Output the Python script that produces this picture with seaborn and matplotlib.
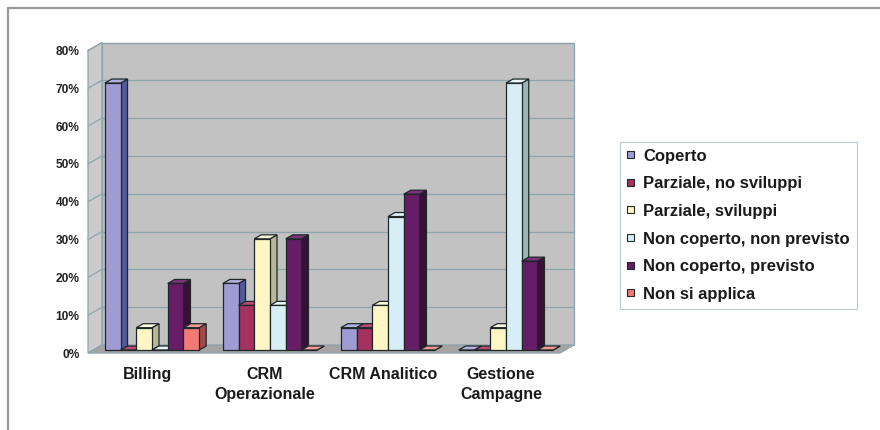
import matplotlib
matplotlib.use("Agg")
import numpy as np
import pandas as pd
import matplotlib.pyplot as plt
import seaborn as sns
from matplotlib.patches import Polygon, Patch
from matplotlib.lines import Line2D
from matplotlib.transforms import ScaledTranslation, IdentityTransform

# ---- data -------------------------------------------------------------
categories = ["Billing", "CRM\nOperazionale", "CRM Analitico", "Gestione\nCampagne"]
series = ["Coperto", "Parziale, no sviluppi", "Parziale, sviluppi",
          "Non coperto, non previsto", "Non coperto, previsto", "Non si applica"]
coperto = [70.6, 17.6, 5.9, 0.0]
parziale_no_sviluppi = [0.0, 11.8, 5.9, 0.0]
parziale_sviluppi = [5.9, 29.4, 11.8, 5.9]
non_coperto_non_previsto = [0.0, 11.8, 35.3, 70.6]
non_coperto_previsto = [17.6, 29.4, 41.2, 23.5]
non_si_applica = [5.9, 0.0, 0.0, 0.0]
y_ticks = [0, 10, 20, 30, 40, 50, 60, 70, 80]
y_tick_labels = ["0%", "10%", "20%", "30%", "40%", "50%", "60%", "70%", "80%"]

values = [coperto, parziale_no_sviluppi, parziale_sviluppi,
          non_coperto_non_previsto, non_coperto_previsto, non_si_applica]
df = pd.DataFrame({
    "categoria": np.repeat([categories], len(series), axis=0).ravel(),
    "serie": np.repeat(series, len(categories)),
    "valore": np.concatenate(values),
})

# ---- style --------------------------------------------------------------
front_colors = ["#9f9bd3", "#a3325f", "#fff6c6", "#d8eef6", "#661c66", "#f27a76"]
side_colors = ["#525a9a", "#6a1f3c", "#b9b795", "#9cb5b8", "#37103a", "#a2494a"]
top_colors = ["#b3b0e0", "#b84a74", "#fffbe0", "#e8f6fa", "#7d327d", "#f79a96"]
edge = "#1e2828"
wall_edge = "#8da3ad"

sns.set_style("white")
plt.rcParams["font.family"] = ["Liberation Sans", "DejaVu Sans"]
plt.rcParams["font.weight"] = "bold"

DPI = 100
fig = plt.figure(figsize=(8.8, 4.3), dpi=DPI)
W, H = 880, 430

# outer frame (top and left edges)
fig.add_artist(Line2D([8 / W, 8 / W], [0, 1 - 8 / H], transform=fig.transFigure,
                      color="#9a9a9a", lw=1.6))
fig.add_artist(Line2D([8 / W, 1], [1 - 8 / H, 1 - 8 / H], transform=fig.transFigure,
                      color="#9a9a9a", lw=1.6))

# front plane of the 3D box
ax = fig.add_axes([88 / W, 77 / H, 472 / W, 302.5 / H])
ax.patch.set_alpha(0)

sns.barplot(data=df, x="categoria", y="valore", hue="serie",
            order=categories, hue_order=series, palette=front_colors,
            saturation=1, width=0.8, errorbar=None, edgecolor=edge,
            linewidth=0.9, legend=False, ax=ax)

ax.set_xlim(-0.5, 3.5)
ax.set_ylim(0, 80)
ax.set_autoscale_on(False)
for s in ax.spines.values():
    s.set_visible(False)
ax.set_xlabel("")
ax.set_ylabel("")
ax.set_yticks(y_ticks)
ax.set_yticklabels(y_tick_labels, fontsize=8.6, fontweight="bold", color="#222222")
ax.tick_params(axis="y", length=0, pad=6)
ax.tick_params(axis="x", length=0, pad=10)
for lab in ax.get_xticklabels():
    lab.set_fontsize(11.5)
    lab.set_fontweight("bold")
    lab.set_color("#1a1a1a")
    lab.set_linespacing(1.45)

# depth of the box and of the bars, in pixels
dx_box, dy_box = 14, 8
dx_bar0, dy_bar0 = 5, 3
dx_bar, dy_bar = 7, 4

ident = IdentityTransform()
to_px = ax.transData.transform
(x0, y0), (x1, y1) = to_px((-0.5, 0)), to_px((3.5, 80))

# walls and floor
back = Polygon([(x0 + dx_box, y0 + dy_box), (x1 + dx_box, y0 + dy_box),
                (x1 + dx_box, y1 + dy_box), (x0 + dx_box, y1 + dy_box)],
               closed=True, transform=ident, facecolor="#c2c2c2",
               edgecolor=wall_edge, lw=0.9, zorder=0.5, clip_on=False)
left = Polygon([(x0, y0), (x0 + dx_box, y0 + dy_box), (x0 + dx_box, y1 + dy_box), (x0, y1)],
               closed=True, transform=ident, facecolor="#cbcbcb",
               edgecolor=wall_edge, lw=0.9, zorder=0.55, clip_on=False)
floor = Polygon([(x0, y0), (x1, y0), (x1 + dx_box, y0 + dy_box), (x0 + dx_box, y0 + dy_box)],
                closed=True, transform=ident, facecolor="#a4a4a4",
                edgecolor=wall_edge, lw=0.9, zorder=0.6, clip_on=False)
for p in (back, left, floor):
    ax.add_patch(p)

# gridlines on the back wall and the left wall
for t in y_ticks[1:]:
    _, yt = to_px((0, t))
    ax.add_line(Line2D([x0 + dx_box, x1 + dx_box], [yt + dy_box, yt + dy_box],
                       transform=ident, color=wall_edge, lw=0.9, zorder=0.7, clip_on=False))
    ax.add_line(Line2D([x0, x0 + dx_box], [yt, yt + dy_box],
                       transform=ident, color=wall_edge, lw=0.9, zorder=0.7, clip_on=False))

# 3D bars: shift the front faces and add the side and top faces
shift = ScaledTranslation(dx_bar0 / DPI, dy_bar0 / DPI, fig.dpi_scale_trans)
bars = []
for si, cont in enumerate(ax.containers):
    for rect in cont.patches:
        bars.append((rect.get_x(), si, rect))
bars.sort(key=lambda b: b[0])
for rank, (_, si, rect) in enumerate(bars):
    z = 2 + rank * 0.01
    rect.set_transform(ax.transData + shift)
    rect.set_clip_on(False)
    rect.set_zorder(z + 0.005)
    xa, yb = to_px((rect.get_x(), 0))
    xb, yt = to_px((rect.get_x() + rect.get_width(), rect.get_height()))
    xa += dx_bar0; xb += dx_bar0; yb += dy_bar0; yt += dy_bar0
    side = Polygon([(xb, yb), (xb + dx_bar, yb + dy_bar), (xb + dx_bar, yt + dy_bar), (xb, yt)],
                   closed=True, transform=ident, facecolor=side_colors[si],
                   edgecolor=edge, lw=0.9, zorder=z, clip_on=False)
    top = Polygon([(xa, yt), (xb, yt), (xb + dx_bar, yt + dy_bar), (xa + dx_bar, yt + dy_bar)],
                  closed=True, transform=ident, facecolor=top_colors[si],
                  edgecolor=edge, lw=0.9, zorder=z, clip_on=False)
    ax.add_patch(side)
    ax.add_patch(top)

# legend
handles = [Patch(facecolor=c, edgecolor=edge, lw=0.8) for c in front_colors]
leg = fig.legend(handles, series, loc="upper left",
                 bbox_to_anchor=(620 / W, 1 - 142 / H), bbox_transform=fig.transFigure,
                 borderaxespad=0, frameon=True, fancybox=False,
                 prop={"size": 12, "weight": "bold"},
                 handlelength=0.45, handleheight=0.27, handletextpad=0.55,
                 borderpad=0.4, labelspacing=0.76)
leg.get_frame().set_edgecolor("#a9bcc6")
leg.get_frame().set_linewidth(0.8)
for t in leg.get_texts():
    t.set_color("#1a1a1a")

fig.savefig("out.png", dpi=DPI, facecolor="white")
